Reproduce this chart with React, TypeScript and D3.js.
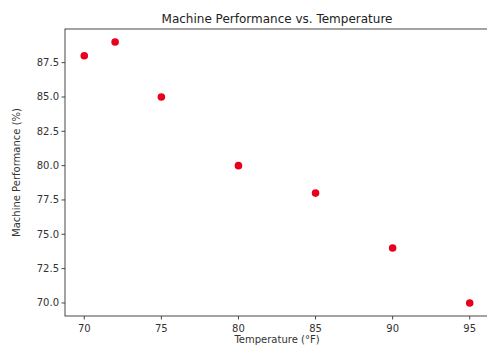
import React from 'react'
import * as d3 from 'd3'

const temps = [70, 72, 75, 80, 85, 90, 95]
const performance = [88, 89, 85, 80, 78, 74, 70]
const xTicks = [70, 75, 80, 85, 90, 95]
const yTicks = [70, 72.5, 75, 77.5, 80, 82.5, 85, 87.5]

const W = 487
const H = 345
const left = 65
const right = 489
const top = 29
const bottom = 316

export default function App() {
  // matplotlib style 5% margins on both axes
  const xScale = d3.scaleLinear().domain([68.75, 96.25]).range([left, right])
  const yScale = d3.scaleLinear().domain([69.05, 89.95]).range([bottom, top])

  const font = 'DejaVu Sans, sans-serif'

  return (
    <svg width={W} height={H} style={{position: 'absolute', left: 0, top: 0, background: '#fff'}}>
      <text x={(left + right) / 2} y={23} textAnchor="middle" fontFamily={font} fontSize={12} fill="#222">
        Machine Performance vs. Temperature
      </text>

      <g id="points">
        {temps.map((t, i) => (
          <circle key={i} cx={xScale(t)} cy={yScale(performance[i])} r={3.8} fill="#e8001c" />
        ))}
      </g>

      <rect x={left} y={top} width={right - left} height={bottom - top} fill="none" stroke="#333" strokeWidth={0.9} />

      <g id="xaxis">
        {xTicks.map(t => (
          <g key={t} transform={`translate(${xScale(t)},${bottom})`}>
            <line y2={3.5} stroke="#333" strokeWidth={0.9} />
            <text y={16} textAnchor="middle" fontFamily={font} fontSize={10} fill="#333">{t}</text>
          </g>
        ))}
        <text x={(left + right) / 2} y={343} textAnchor="middle" fontFamily={font} fontSize={10} fill="#333">
          Temperature (°F)
        </text>
      </g>

      <g id="yaxis">
        {yTicks.map(t => (
          <g key={t} transform={`translate(${left},${yScale(t)})`}>
            <line x2={-3.5} stroke="#333" strokeWidth={0.9} />
            <text x={-6} dy="0.35em" textAnchor="end" fontFamily={font} fontSize={10} fill="#333">{d3.format('.1f')(t)}</text>
          </g>
        ))}
        <text transform={`translate(20,${(top + bottom) / 2}) rotate(-90)`} textAnchor="middle" fontFamily={font} fontSize={10} fill="#333">
          Machine Performance (%)
        </text>
      </g>
    </svg>
  )
}
